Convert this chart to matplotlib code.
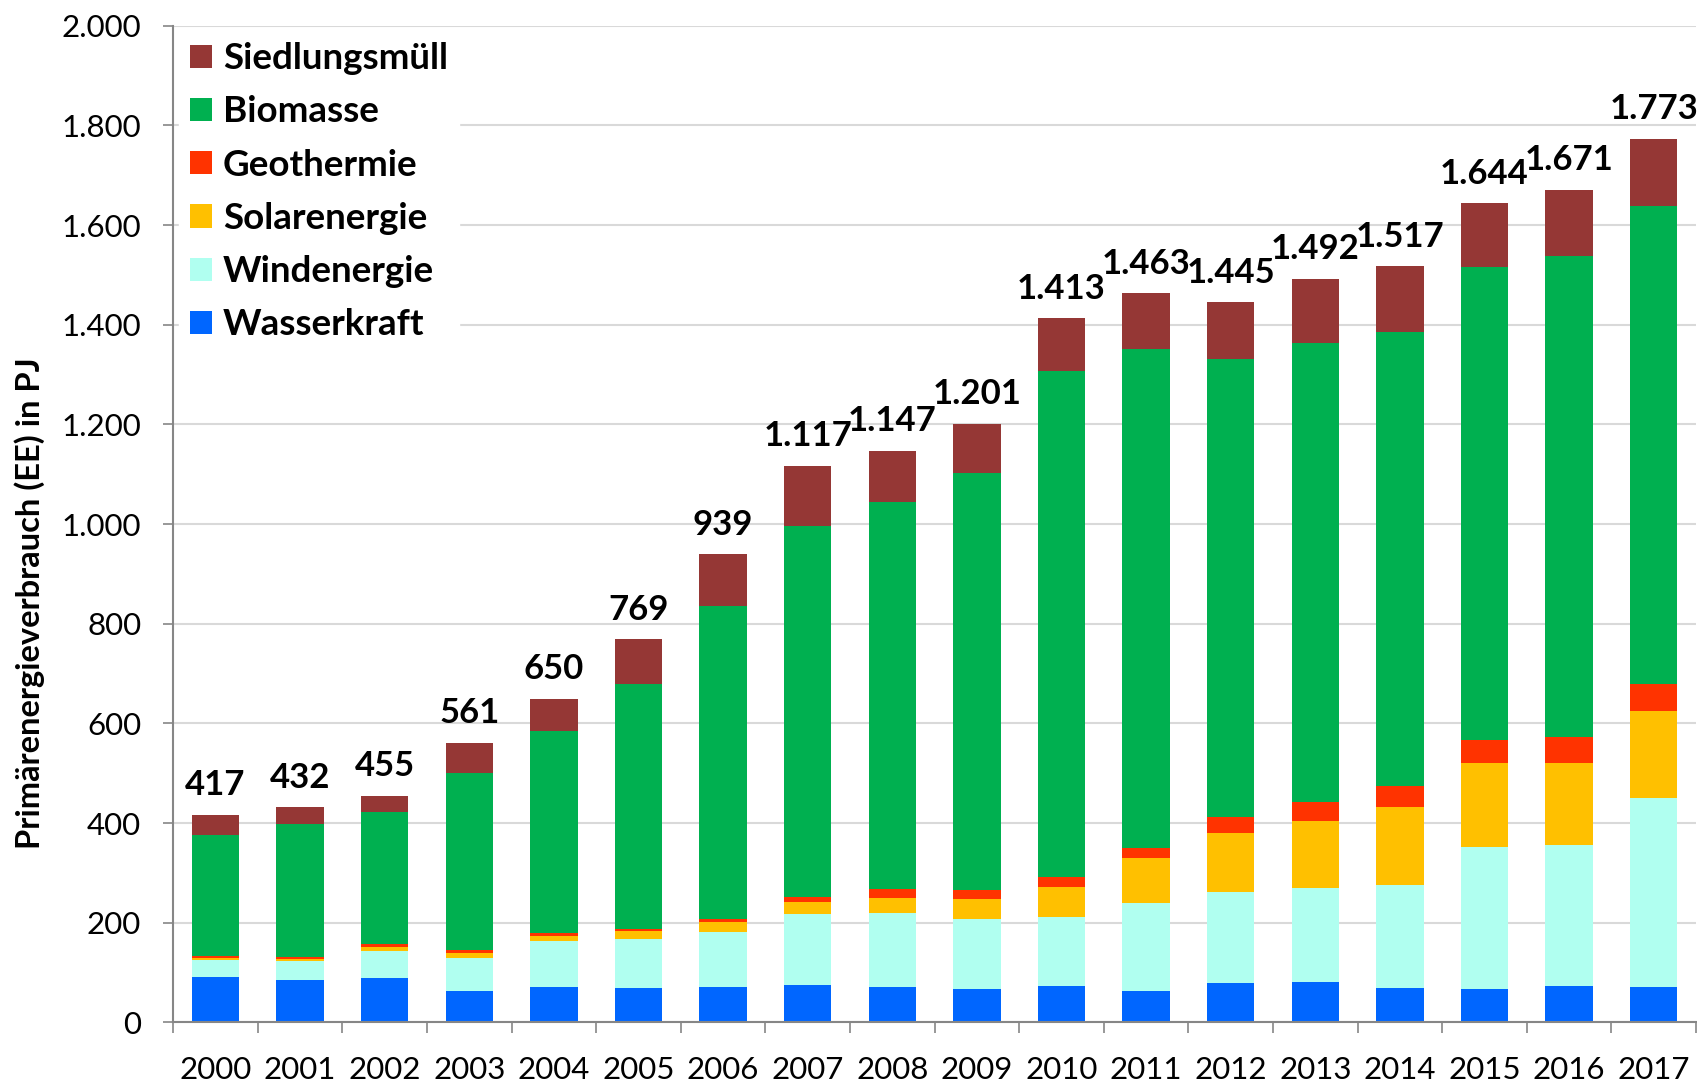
import numpy as np
import matplotlib
matplotlib.use('Agg')
import matplotlib.pyplot as plt
from matplotlib.ticker import FuncFormatter, FixedLocator

# Data (PJ)
years = ['2000', '2001', '2002', '2003', '2004', '2005', '2006', '2007', '2008',
         '2009', '2010', '2011', '2012', '2013', '2014', '2015', '2016', '2017']
wasserkraft = [91, 85, 89, 63, 71, 69, 71, 75, 72, 67, 74, 63, 79, 82, 69, 67, 73, 71]
windenergie = [35, 38, 55, 67, 92, 98, 111, 143, 147, 140, 137, 176, 183, 187, 207, 286, 283, 380]
solarenergie = [4, 5, 8, 9, 11, 16, 19, 24, 31, 41, 61, 90, 119, 136, 156, 167, 165, 173]
geothermie = [4, 4, 6, 7, 5, 5, 7, 9, 17, 18, 20, 22, 32, 37, 42, 47, 52, 55]
biomasse = [243, 267, 265, 354, 406, 492, 628, 745, 777, 836, 1015, 1001, 918, 922, 911, 948, 964, 960]
totals = [417, 432, 455, 561, 650, 769, 939, 1117, 1147, 1201, 1413, 1463, 1445, 1492, 1517, 1644, 1671, 1773]

series = [
    ('Wasserkraft', wasserkraft, '#0066FF'),
    ('Windenergie', windenergie, '#B0FFF0'),
    ('Solarenergie', solarenergie, '#FFC000'),
    ('Geothermie', geothermie, '#FF3300'),
    ('Biomasse', biomasse, '#00B050'),
]

FONT = 'Lato'
plt.rcParams['font.family'] = [FONT, 'DejaVu Sans']


def de_fmt(v, pos=None):
    return f'{int(v):,}'.replace(',', '.')


def main():
    fig = plt.figure(figsize=(16.97, 10.83), dpi=100)
    ax = fig.add_axes([0.102, 0.0559, 0.8974, 0.9204])

    x = np.arange(len(years))
    bottom = np.zeros(len(years))
    handles = {}
    for name, vals, color in series:
        vals = np.asarray(vals, dtype=float)
        handles[name] = ax.bar(x, vals, 0.56, bottom=bottom, color=color,
                               label=name, zorder=3)
        bottom += vals

    # Siedlungsmüll = rest up to total
    siedlung = np.asarray(totals, dtype=float) - bottom
    handles['Siedlungsmüll'] = ax.bar(x, siedlung, 0.56, bottom=bottom,
                                      color='#953735', label='Siedlungsmüll', zorder=3)

    # Totals above bars
    for xi, t in zip(x, totals):
        ax.annotate(de_fmt(t), (xi, t), xytext=(0, 14), textcoords='offset points',
                    ha='center', va='baseline', fontsize=25, fontweight='bold', zorder=5)

    # Axes
    ax.set_xlim(-0.5, len(years) - 0.5)
    ax.set_ylim(0, 2000)
    ax.set_yticks(np.arange(0, 2001, 200))
    ax.yaxis.set_major_formatter(FuncFormatter(de_fmt))
    ax.grid(axis='y', color='#d9d9d9', linewidth=1.5, zorder=0)
    ax.tick_params(axis='y', length=7, width=1.2, color='#868686', pad=16, labelsize=22.5)

    ax.set_xticks(x)
    ax.set_xticklabels(years)
    ax.xaxis.set_minor_locator(FixedLocator(np.arange(-0.5, len(years), 1.0)))
    ax.tick_params(axis='x', which='major', length=0, pad=24, labelsize=22.5)
    ax.tick_params(axis='x', which='minor', length=8, width=1.2, color='#868686')

    for side in ['top', 'right']:
        ax.spines[side].set_visible(False)
    for side in ['left', 'bottom']:
        ax.spines[side].set_color('#868686')
        ax.spines[side].set_linewidth(1.5)
        ax.spines[side].set_zorder(4)

    fig.text(0.0176, 0.443, 'Primärenergieverbrauch (EE) in PJ', rotation=90,
             ha='center', va='center', fontsize=23.5, fontweight='bold')

    order = ['Siedlungsmüll', 'Biomasse', 'Geothermie', 'Solarenergie', 'Windenergie', 'Wasserkraft']
    leg = ax.legend([handles[n] for n in order], order, loc='upper left',
                    bbox_to_anchor=(0.0, 1.0), frameon=True, fancybox=False,
                    framealpha=1.0, edgecolor='white', facecolor='white',
                    prop={'family': FONT, 'weight': 'bold', 'size': 26.5},
                    handlelength=0.6, handleheight=0.6, handletextpad=0.3,
                    labelspacing=0.55, borderpad=0.3, borderaxespad=0.15)
    leg.set_zorder(6)

    fig.savefig('out.png', dpi=100)


if __name__ == '__main__':
    main()
